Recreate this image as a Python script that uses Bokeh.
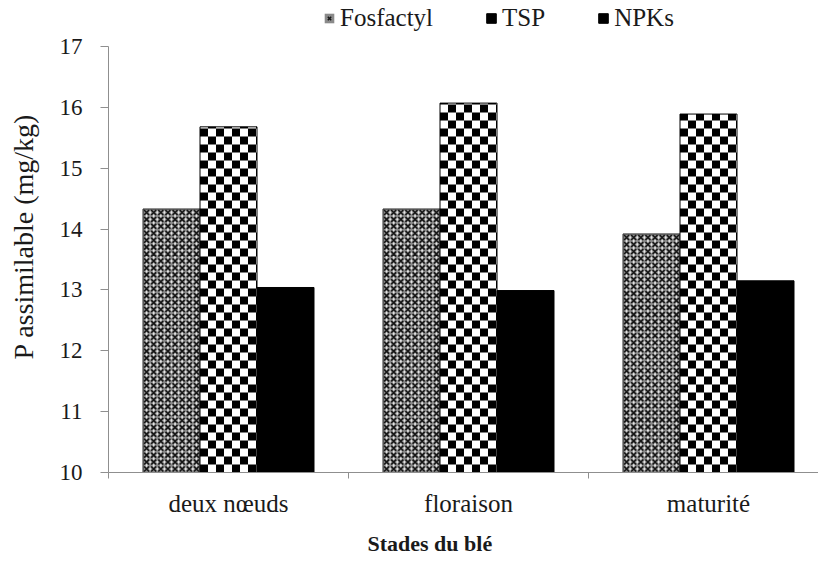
import numpy as np
from bokeh.plotting import figure
from bokeh.models import (Range1d, FixedTicker, Legend, LegendItem,
                          ColumnDataSource, Title)
from bokeh.transform import dodge
from bokeh.embed import file_html
from bokeh.resources import INLINE

# Plant-available phosphorus by wheat growth stage and fertilizer
stages = ["deux nœuds", "floraison", "maturité"]
fosfactyl = [14.33, 14.33, 13.92]
tsp = [15.68, 16.07, 15.89]
npks = [13.04, 12.99, 13.15]
y_ticks = [10, 11, 12, 13, 14, 15, 16, 17]

FONT = "Liberation Serif"
TEXT = "#1a1a1a"
AXIS = "#8f8f8f"
BAR_W = 0.2375

centers = np.arange(len(stages)) + 0.5
boundaries = list(range(len(stages) + 1))

src = ColumnDataSource(dict(x=centers, fosfactyl=fosfactyl, tsp=tsp, npks=npks))

# frame geometry: 240 px per category, 426 px for the 10..17 span;
# the frame runs to the top edge so the legend can sit above the 17 tick
y_lo, y_hi = y_ticks[0], y_ticks[-1]
X_PX = 240.0
Y_PX = 426.0 / (y_hi - y_lo)
p = figure(width=818, height=565, output_backend="svg", toolbar_location=None,
           x_range=Range1d(0, 710 / X_PX),
           y_range=Range1d(y_lo, y_hi + 46 / Y_PX),
           min_border_left=108, min_border_right=0,
           min_border_top=0, min_border_bottom=93)
p.outline_line_color = None
p.xgrid.visible = False
p.ygrid.visible = False
p.background_fill_color = "white"
p.border_fill_color = "white"


def bar_edges(xc):
    return xc - BAR_W / 2, xc + BAR_W / 2


# --- Fosfactyl: gray bars with a diagonal mesh --------------------------
# mesh cells are stretched slightly per bar so they tile it exactly
MESH = 7.0
mx, my, dx_, dy_ = [], [], [], []
for xc, top in zip(centers - BAR_W, fosfactyl):
    left, right = bar_edges(xc)
    ncol = max(1, round((right - left) * X_PX / MESH))
    nrow = max(1, round((top - y_lo) * Y_PX / MESH))
    sx = (right - left) / ncol
    sy = (top - y_lo) / nrow
    for i in range(ncol):
        for j in range(nrow):
            mx.append(left + (i + 0.5) * sx)
            my.append(y_lo + (j + 0.5) * sy)
            if i < ncol - 1:
                dx_.append(left + (i + 1) * sx)
                dy_.append(y_lo + (j + 0.5) * sy)
            if j < nrow - 1:
                dx_.append(left + (i + 0.5) * sx)
                dy_.append(y_lo + (j + 1) * sy)

r_fos = p.vbar(x=dodge("x", -BAR_W, range=p.x_range), top="fosfactyl", bottom=y_lo,
               width=BAR_W, source=src, fill_color="#8a8a8a", line_color=None)
r_fos_x = p.scatter(mx, my, marker="x", size=MESH, line_color="#161616", line_width=1.5)
p.scatter(dx_, dy_, marker="diamond", size=3.4, fill_color="#e4e4e4", line_color=None)
p.vbar(x=dodge("x", -BAR_W, range=p.x_range), top="fosfactyl", bottom=y_lo,
       width=BAR_W, source=src, fill_color=None, line_color="#2a2a2a", line_width=1)

# --- TSP: checkerboard bars ---------------------------------------------
CELL = 8.0
ql, qr, qb, qt = [], [], [], []
for xc, top in zip(centers, tsp):
    left, right = bar_edges(xc)
    ncol = int(np.ceil((right - left) * X_PX / CELL))
    nrow = int(np.ceil((top - y_lo) * Y_PX / CELL))
    for i in range(ncol):
        for j in range(nrow):
            if (i + j) % 2 == 0:
                l = left + i * CELL / X_PX
                b = y_lo + j * CELL / Y_PX
                ql.append(l)
                qr.append(min(l + CELL / X_PX, right))
                qb.append(b)
                qt.append(min(b + CELL / Y_PX, top))

r_tsp = p.vbar(x="x", top="tsp", bottom=y_lo, width=BAR_W, source=src,
               fill_color="white", line_color=None)
r_tsp_q = p.quad(left=ql, right=qr, bottom=qb, top=qt, fill_color="black", line_color=None)
r_tsp_o = p.vbar(x="x", top="tsp", bottom=y_lo, width=BAR_W, source=src,
                 fill_color=None, line_color="black", line_width=1)

# --- NPKs: solid black bars ----------------------------------------------
r_npk = p.vbar(x=dodge("x", BAR_W, range=p.x_range), top="npks", bottom=y_lo,
               width=BAR_W, source=src, fill_color="black", line_color="black",
               line_width=1)

# y axis
yax = p.yaxis[0]
yax.bounds = (y_lo, y_hi)
yax.ticker = FixedTicker(ticks=y_ticks)
yax.major_tick_out = 8
yax.major_tick_in = 0
yax.minor_tick_out = 0
yax.minor_tick_in = 0
yax.axis_line_color = AXIS
yax.major_tick_line_color = AXIS
yax.major_label_text_font = FONT
yax.major_label_text_font_size = "23px"
yax.major_label_text_color = TEXT
yax.major_label_standoff = 18
yax.axis_label = "P assimilable (mg/kg)"
yax.axis_label_text_font = FONT
yax.axis_label_text_font_size = "28px"
yax.axis_label_text_font_style = "normal"
yax.axis_label_text_color = TEXT
yax.axis_label_standoff = 18

# x axis: labels at group centres, ticks on category boundaries
xax = p.xaxis[0]
xax.ticker = FixedTicker(ticks=list(centers), minor_ticks=boundaries)
xax.major_label_overrides = {float(c): s for c, s in zip(centers, stages)}
xax.major_tick_line_color = None
xax.major_tick_out = 0
xax.major_tick_in = 0
xax.minor_tick_line_color = AXIS
xax.minor_tick_out = 6
xax.minor_tick_in = 0
xax.axis_line_color = AXIS
xax.major_label_text_font = FONT
xax.major_label_text_font_size = "25px"
xax.major_label_text_color = TEXT
xax.major_label_standoff = 11

p.add_layout(Title(text="Stades du blé", align="left", offset=259,
                   text_font=FONT, text_font_size="22px", text_font_style="bold",
                   text_color=TEXT, standoff=19), "below")

legend = Legend(items=[LegendItem(label="Fosfactyl", renderers=[r_fos, r_fos_x]),
                       LegendItem(label="TSP", renderers=[r_tsp, r_tsp_q, r_tsp_o]),
                       LegendItem(label="NPKs", renderers=[r_npk])],
                orientation="horizontal", location=(215, 440),
                label_text_font=FONT, label_text_font_size="25px",
                label_text_color=TEXT, label_standoff=5,
                glyph_width=12, glyph_height=12, spacing=52,
                padding=0, margin=0, border_line_color=None,
                background_fill_alpha=0)
p.add_layout(legend, "center")

open("out.html", "w").write(file_html(p, INLINE))
